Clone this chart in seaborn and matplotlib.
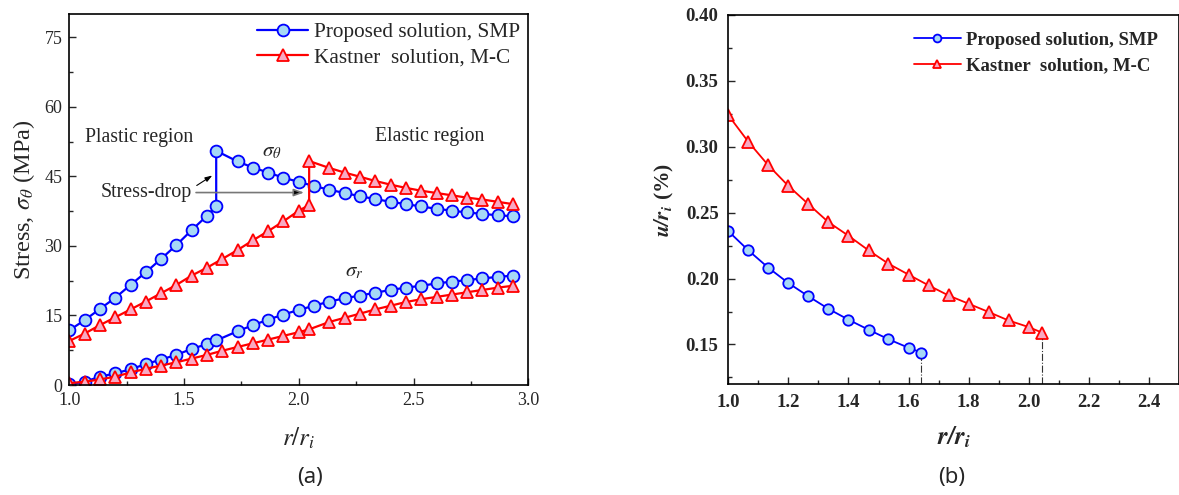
import matplotlib
matplotlib.use("Agg")
import matplotlib.pyplot as plt
import seaborn as sns
import pandas as pd

# ---------------- data: panel (a) ----------------
xb_theta = [1.0, 1.067, 1.133, 1.2, 1.267, 1.333, 1.4, 1.467, 1.533, 1.6, 1.64, 1.64,
            1.733, 1.8, 1.867, 1.933, 2.0, 2.067, 2.133, 2.2, 2.267, 2.333, 2.4, 2.467,
            2.533, 2.6, 2.667, 2.733, 2.8, 2.867, 2.933]
yb_theta = [11.8, 14.0, 16.4, 18.8, 21.6, 24.3, 27.2, 30.2, 33.4, 36.5, 38.6, 50.5,
            48.2, 46.9, 45.8, 44.7, 43.8, 42.9, 42.1, 41.4, 40.7, 40.1, 39.5, 39.0,
            38.5, 38.0, 37.6, 37.2, 36.9, 36.6, 36.4]
xb_r = [1.0, 1.067, 1.133, 1.2, 1.267, 1.333, 1.4, 1.467, 1.533, 1.6, 1.64,
        1.733, 1.8, 1.867, 1.933, 2.0, 2.067, 2.133, 2.2, 2.267, 2.333, 2.4, 2.467,
        2.533, 2.6, 2.667, 2.733, 2.8, 2.867, 2.933]
yb_r = [0.2, 0.7, 1.8, 2.5, 3.4, 4.5, 5.5, 6.5, 7.8, 8.8, 9.6,
        11.6, 12.9, 14.1, 15.2, 16.2, 17.1, 18.0, 18.7, 19.3, 19.9, 20.5, 21.0,
        21.4, 21.9, 22.3, 22.6, 23.0, 23.3, 23.6]
xr_theta = [1.0, 1.067, 1.133, 1.2, 1.267, 1.333, 1.4, 1.467, 1.533, 1.6, 1.667, 1.733,
            1.8, 1.867, 1.933, 2.0, 2.045, 2.045, 2.133, 2.2, 2.267, 2.333, 2.4, 2.467,
            2.533, 2.6, 2.667, 2.733, 2.8, 2.867, 2.933]
yr_theta = [9.5, 11.1, 12.9, 14.6, 16.3, 18.0, 19.8, 21.6, 23.6, 25.3, 27.2, 29.1,
            31.2, 33.2, 35.3, 37.6, 38.8, 48.3, 46.8, 45.8, 44.9, 44.0, 43.2, 42.5,
            41.9, 41.4, 40.9, 40.4, 40.0, 39.5, 39.0]
xr_r = [1.0, 1.067, 1.133, 1.2, 1.267, 1.333, 1.4, 1.467, 1.533, 1.6, 1.667, 1.733,
        1.8, 1.867, 1.933, 2.0, 2.045, 2.133, 2.2, 2.267, 2.333, 2.4, 2.467,
        2.533, 2.6, 2.667, 2.733, 2.8, 2.867, 2.933]
yr_r = [0.4, 0.7, 1.2, 1.8, 2.7, 3.5, 4.2, 4.9, 5.7, 6.5, 7.4, 8.2,
        9.0, 9.8, 10.6, 11.4, 12.0, 13.6, 14.5, 15.4, 16.3, 17.1, 17.9,
        18.5, 19.0, 19.5, 20.0, 20.5, 21.0, 21.4]

# ---------------- data: panel (b) ----------------
xb_u = [1.0, 1.067, 1.133, 1.2, 1.267, 1.333, 1.4, 1.467, 1.533, 1.6, 1.642]
yb_u = [0.236, 0.2214, 0.2083, 0.1966, 0.1865, 0.1771, 0.1688, 0.1612, 0.154, 0.1475, 0.1439]
xr_u = [1.0, 1.067, 1.133, 1.2, 1.267, 1.333, 1.4, 1.467, 1.533, 1.6, 1.667, 1.733,
        1.8, 1.867, 1.933, 2.0, 2.045]
yr_u = [0.324, 0.3037, 0.286, 0.2703, 0.2564, 0.2429, 0.2325, 0.2214, 0.2113, 0.2030,
        0.1948, 0.1872, 0.1809, 0.1746, 0.1682, 0.1632, 0.1589]

labels = ["Proposed solution, SMP", "Kastner  solution, M-C"]
xticks_a = [1.0, 1.5, 2.0, 2.5, 3.0]
yticks_a = [0, 15, 30, 45, 60, 75]
xticks_b = [1.0, 1.2, 1.4, 1.6, 1.8, 2.0, 2.2, 2.4]
yticks_b = [0.15, 0.20, 0.25, 0.30, 0.35, 0.40]

BLUE, BLUE_F = "#0000FF", "#A6D8F6"
RED, RED_F = "#FF0000", "#F8A9C3"

sns.set_theme(style="ticks")
plt.rcParams["font.family"] = ["Liberation Serif", "DejaVu Serif"]
plt.rcParams["mathtext.fontset"] = "stix"
plt.rcParams["xtick.direction"] = "in"
plt.rcParams["ytick.direction"] = "in"
plt.rcParams["axes.linewidth"] = 1.2
plt.rcParams["axes.edgecolor"] = "black"

fig = plt.figure(figsize=(11.79, 4.95), dpi=100)
axA = fig.add_axes([0.0588, 0.2222, 0.3893, 0.7495])
axB = fig.add_axes([0.6177, 0.2242, 0.3823, 0.7455])


def draw(ax, x, y, color, face, marker, ms, lw, label=None):
    df = pd.DataFrame({"x": x, "y": y})
    sns.lineplot(data=df, x="x", y="y", ax=ax, sort=False, estimator=None,
                 color=color, lw=lw, marker=marker, markersize=ms,
                 markerfacecolor=face, markeredgecolor=color, markeredgewidth=1.3,
                 label=label, legend=False)


# ---------- panel (a) ----------
draw(axA, xb_theta, yb_theta, BLUE, BLUE_F, "o", 8.5, 1.6, labels[0])
draw(axA, xr_theta, yr_theta, RED, RED_F, "^", 9, 1.6, labels[1])
draw(axA, xb_r, yb_r, BLUE, BLUE_F, "o", 8.5, 1.6)
draw(axA, xr_r, yr_r, RED, RED_F, "^", 9, 1.6)

axA.set_xlim(1.0, 3.0)
axA.set_ylim(0, 80)
axA.set_xticks(xticks_a)
axA.set_xticklabels([f"{v:.1f}" for v in xticks_a])
axA.set_yticks(yticks_a)
axA.set_xticks([1.25, 1.75, 2.25, 2.75], minor=True)
axA.set_yticks([7.5, 22.5, 37.5, 52.5, 67.5], minor=True)
axA.tick_params(which="major", length=5, width=1.0, labelsize=13, pad=5)
axA.tick_params(which="minor", length=3, width=1.0)
axA.set_xlabel("$r/r_i$", fontsize=18, labelpad=12)
axA.set_ylabel(r"Stress, $\sigma_\theta$ (MPa)", fontsize=17.5, labelpad=5)
for s in axA.spines.values():
    s.set_visible(True)
    s.set_color("black")

axA.text(1.068, 53.3, "Plastic region", fontsize=14.2, va="center", ha="left")
axA.text(2.332, 53.5, "Elastic region", fontsize=14.2, va="center", ha="left")
axA.text(1.84, 50.3, r"$\sigma_\theta$", fontsize=15, va="center", ha="left")
axA.text(2.2, 24.4, r"$\sigma_r$", fontsize=15, va="center", ha="left")
axA.text(1.535, 41.5, "Stress-drop", fontsize=14.4, va="center", ha="right")
axA.annotate("", xy=(2.035, 41.5), xytext=(1.54, 41.5),
             arrowprops=dict(arrowstyle="-|>,head_length=0.5,head_width=0.18",
                             fc="black", ec="#777777", lw=1.2))
axA.annotate("", xy=(1.633, 45.5), xytext=(1.545, 42.7),
             arrowprops=dict(arrowstyle="-|>,head_length=0.35,head_width=0.12",
                             fc="black", ec="black", lw=0.8))

legA = axA.legend(loc="upper right", frameon=False, fontsize=15.3,
                  handlelength=2.4, handletextpad=0.25, labelspacing=0.25,
                  borderaxespad=0.25, borderpad=0.15)

# ---------- panel (b) ----------
draw(axB, xb_u, yb_u, BLUE, BLUE_F, "o", 7.5, 1.3, labels[0])
draw(axB, xr_u, yr_u, RED, RED_F, "^", 8.5, 1.3, labels[1])
axB.vlines([xb_u[-1]], 0.12, yb_u[-1] - 0.004, colors="#333333", linestyles="-.", lw=0.8)
axB.vlines([xr_u[-1]], 0.12, yr_u[-1] - 0.004, colors="#333333", linestyles="-.", lw=0.8)

axB.set_xlim(1.0, 2.5)
axB.set_ylim(0.12, 0.40)
axB.set_xticks(xticks_b)
axB.set_xticklabels([f"{v:.1f}" for v in xticks_b])
axB.set_yticks(yticks_b)
axB.set_yticklabels([f"{v:.2f}" for v in yticks_b])
axB.set_xticks([1.1, 1.3, 1.5, 1.7, 1.9, 2.1, 2.3], minor=True)
axB.set_yticks([0.125, 0.175, 0.225, 0.275, 0.325, 0.375], minor=True)
axB.tick_params(which="major", length=5, width=1.0, labelsize=13.5, pad=7)
axB.tick_params(which="minor", length=3, width=1.0)
for lab in axB.get_xticklabels() + axB.get_yticklabels():
    lab.set_fontweight("bold")
axB.set_xlabel(r"$\mathbfit{r/r_i}$", fontsize=18, labelpad=10)
axB.set_ylabel(r"$\mathbfit{u/r_i}$ (%)", fontsize=15.5, fontweight="bold", labelpad=7)
for s in axB.spines.values():
    s.set_visible(True)
    s.set_color("black")

legB = axB.legend(loc="upper left", bbox_to_anchor=(0.395, 0.975), frameon=False,
                  fontsize=13.5, handlelength=2.5, handletextpad=0.3, labelspacing=0.45,
                  borderaxespad=0.2, borderpad=0.2, markerscale=0.75)
for t in legB.get_texts():
    t.set_fontweight("bold")

fig.text(310 / 1179, 1 - 478 / 495, "(a)", fontsize=16, ha="center", va="center",
         family=["Noto Sans", "DejaVu Sans"], fontweight="light")
fig.text(952 / 1179, 1 - 478 / 495, "(b)", fontsize=16, ha="center", va="center",
         family=["Noto Sans", "DejaVu Sans"], fontweight="light")

fig.savefig("out.png", dpi=100)
